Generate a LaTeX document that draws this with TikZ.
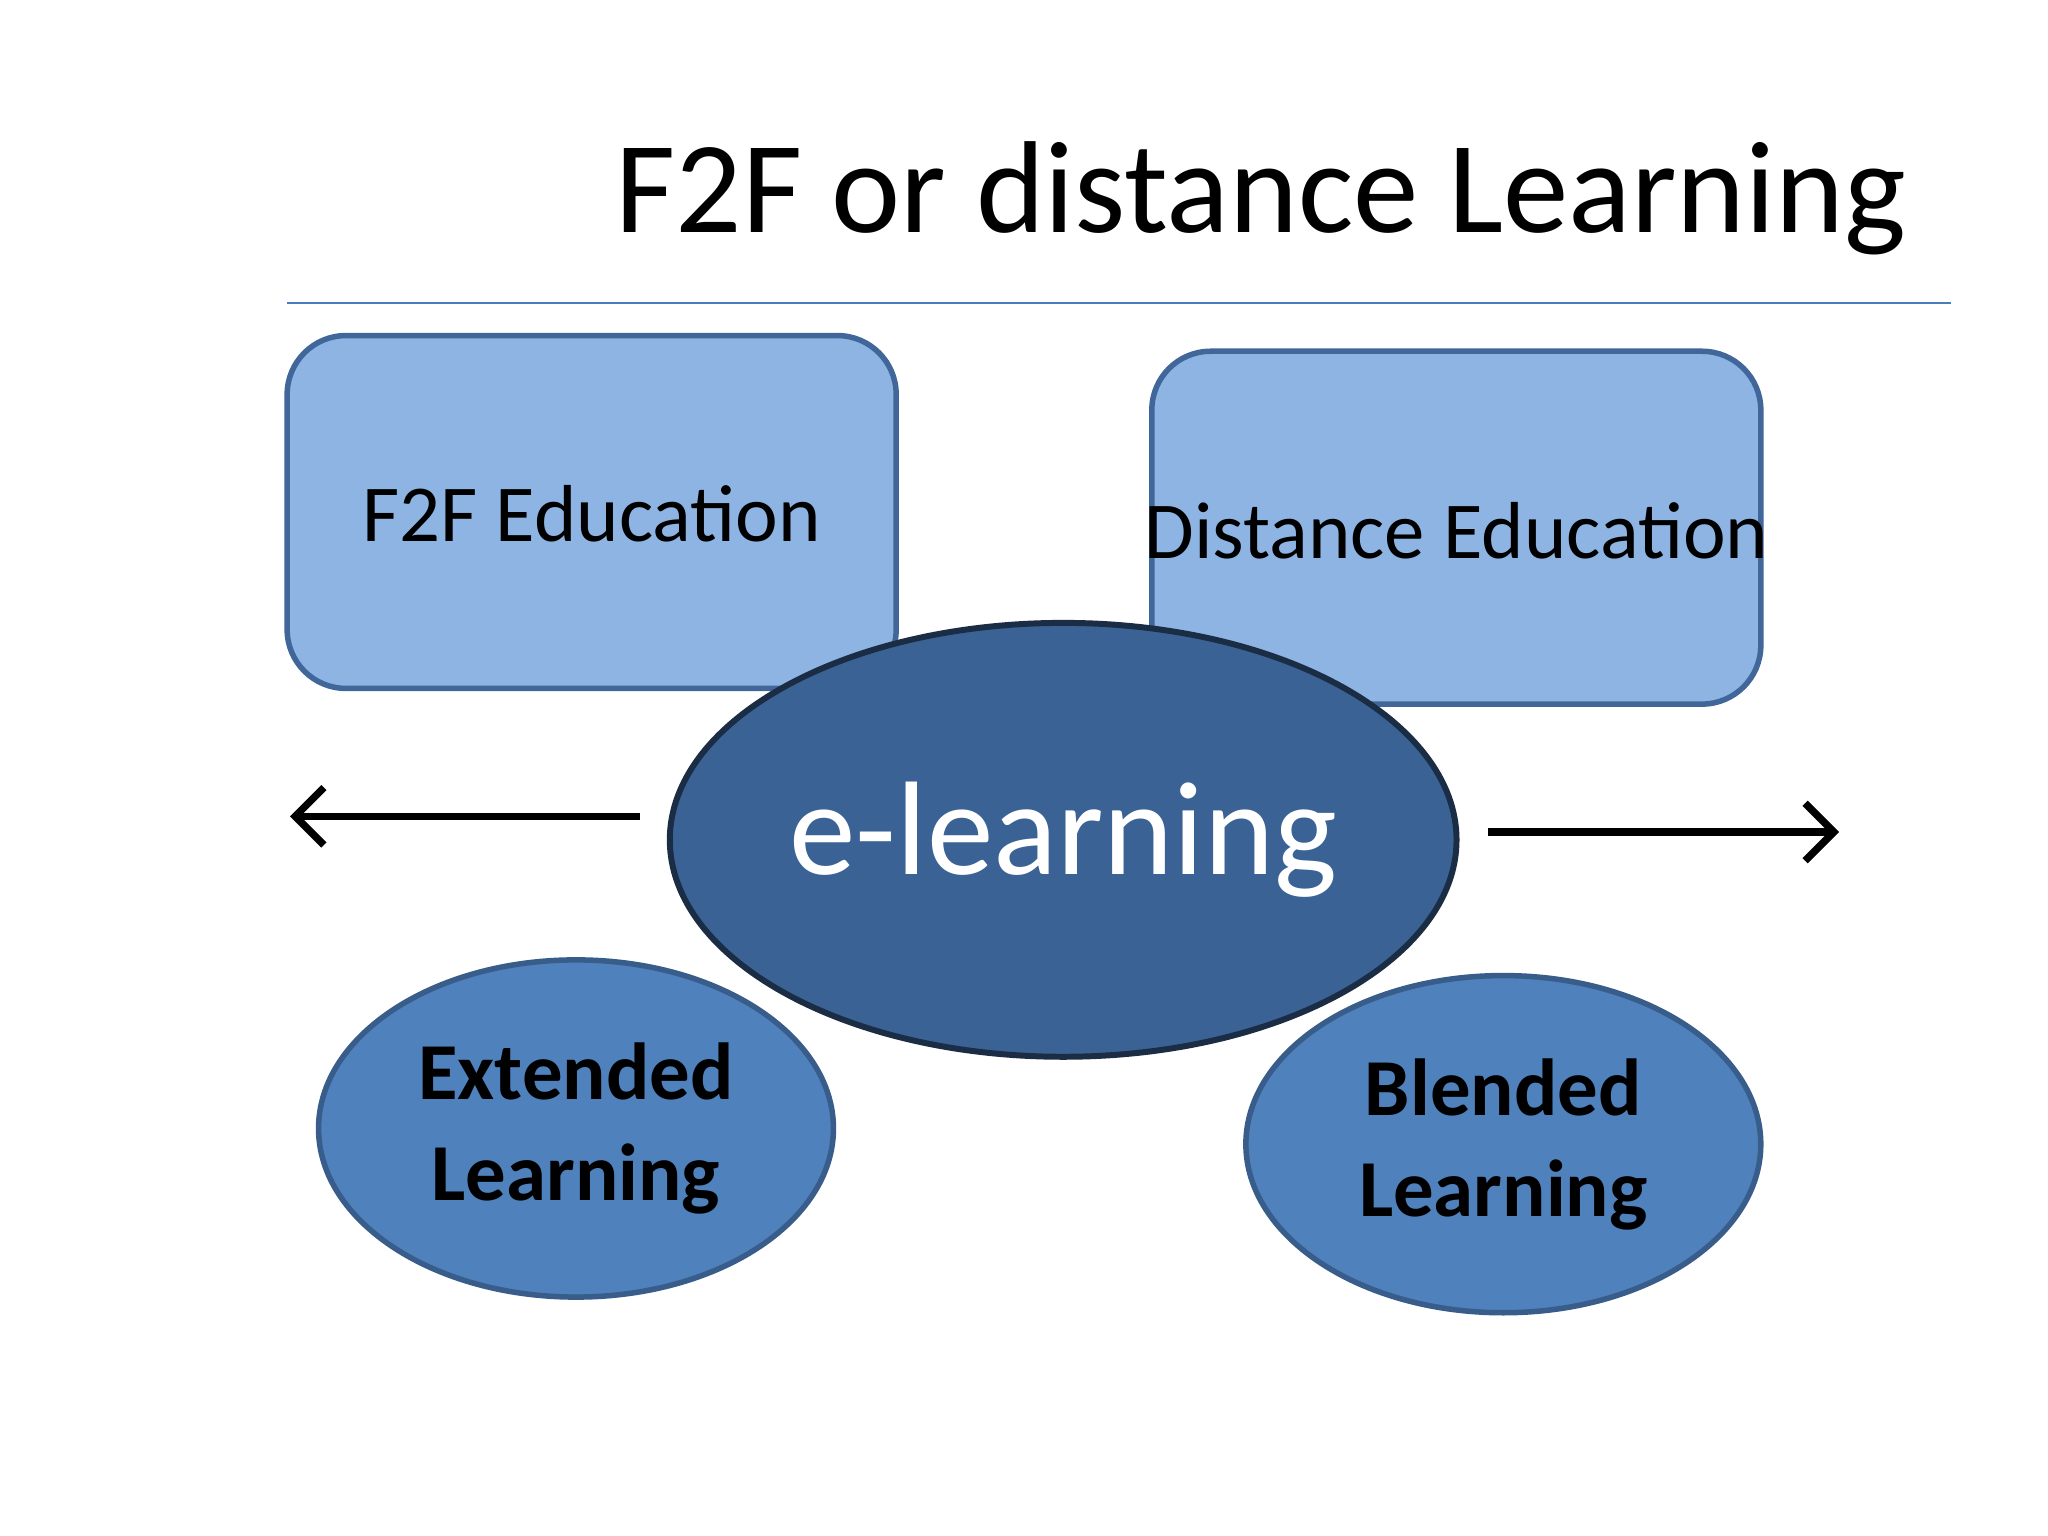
\documentclass[tikz,border=0pt]{standalone}
\usepackage{fontspec}
\setmainfont{Carlito}
\usetikzlibrary{shapes.geometric,arrows.meta}
\definecolor{boxfill}{HTML}{8EB4E3}
\definecolor{boxline}{HTML}{41679A}
\definecolor{bigfill}{HTML}{3A6294}
\definecolor{bigline}{HTML}{1B2D45}
\definecolor{smallfill}{HTML}{4F81BD}
\definecolor{smallline}{HTML}{385D8A}
\definecolor{rule}{HTML}{4A7EBB}
\tikzset{
 box/.style={draw=boxline,fill=boxfill,line width=1.2pt,rounded corners=0.45cm,minimum width=4.66cm,minimum height=2.7cm,font=\fontsize{17.6}{20}\selectfont},
 bigell/.style={ellipse,draw=bigline,fill=bigfill,line width=1.3pt,minimum width=6.02cm,minimum height=3.32cm,inner sep=0pt,text=white,font=\fontsize{29}{32}\selectfont},
 smallell/.style={ellipse,draw=smallline,fill=smallfill,line width=1.2pt,minimum width=3.94cm,minimum height=2.58cm,inner sep=0pt,align=center,font=\bfseries\fontsize{17.6}{22}\selectfont},
 arr/.style={line width=1.6pt,-{Straight Barb[length=2.2mm,width=4.4mm]}}
}
\begin{document}
\begin{tikzpicture}[x=0.01cm,y=-0.01cm]
\useasboundingbox[fill=white] (0,0) rectangle (1568,1176);
\node[anchor=base east,font=\fontsize{28.5}{32}\selectfont] (title) at (1472,178) {F2F or distance Learning};
\coordinate (r1) at (220,232); \coordinate (r2) at (1494,232);
\draw[rule,line width=0.6pt] (r1) -- (r2);
\node[box] (f2f) at (453,392) {};
\node[font=\fontsize{17.6}{20}\selectfont] (f2ft) at (453,393) {F2F Education};
\node[box] (dist) at (1115,404) {};
\node[font=\fontsize{17.6}{20}\selectfont] (distt) at (1115,406) {Distance Education};
\node[bigell] (el) at (814,643) {e-learning};
\node[smallell] (ext) at (441,864) {Extended\\Learning};
\node[smallell] (bl) at (1151,876) {Blended\\Learning};
\coordinate (la) at (490,625); \coordinate (lb) at (222,625);
\coordinate (ra) at (1139,637); \coordinate (rb) at (1408,637);
\draw[arr] (la) -- (lb);
\draw[arr] (ra) -- (rb);
\end{tikzpicture}
\end{document}
